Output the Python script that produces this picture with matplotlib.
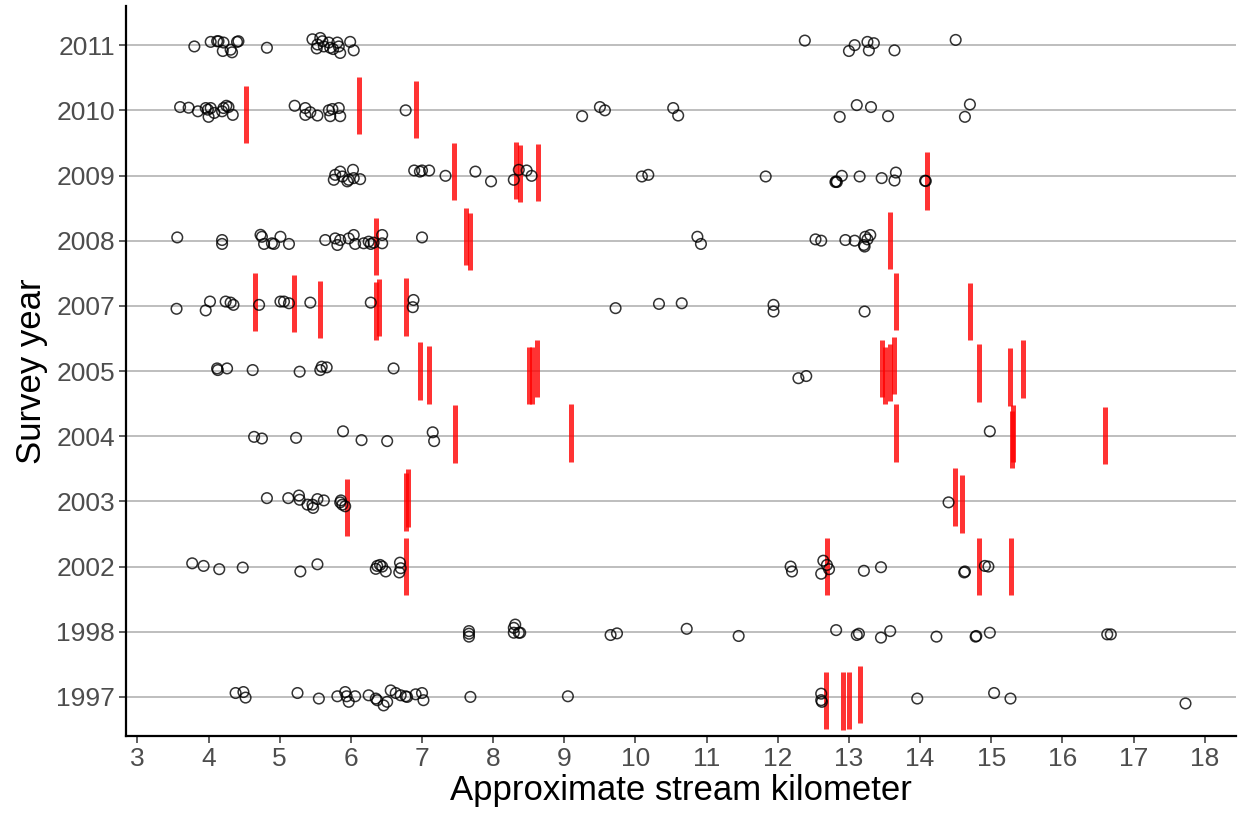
import numpy as np
import matplotlib
matplotlib.use("Agg")
import matplotlib.pyplot as plt

plt.rcParams['font.family'] = ['Liberation Sans', 'DejaVu Sans']

years = ['1997', '1998', '2002', '2003', '2004', '2005', '2007', '2008', '2009', '2010', '2011']

# survey points: (stream km, vertical jitter in row units)
pts_2011 = [(3.80, -0.02), (4.03, 0.05), (4.12, 0.06), (4.14, 0.06), (4.21, 0.04), (4.20, -0.09),
            (4.33, -0.11), (4.31, -0.07), (4.40, 0.05), (4.42, 0.06), (4.82, -0.04), (5.46, 0.09),
            (5.52, -0.05), (5.53, 0.01), (5.57, 0.11), (5.60, 0.06), (5.62, -0.02), (5.69, 0.04),
            (5.71, -0.04), (5.75, -0.06), (5.81, 0.04), (5.83, -0.02), (5.85, -0.12), (5.99, 0.05),
            (6.04, -0.08), (12.38, 0.07), (13.00, -0.09), (13.08, 0.0), (13.26, 0.05), (13.28, -0.08),
            (13.35, 0.03), (13.64, -0.08), (14.50, 0.08)]
pts_2010 = [(3.60, 0.05), (3.72, 0.04), (3.85, -0.015), (3.96, 0.035), (3.99, 0.01), (4.00, -0.10),
            (4.03, 0.035), (4.08, -0.04), (4.19, -0.015), (4.21, 0.035), (4.25, 0.07), (4.28, 0.05),
            (4.34, -0.07), (5.21, 0.07), (5.36, 0.035), (5.36, -0.07), (5.43, -0.03), (5.53, -0.08),
            (5.69, 0.0), (5.71, -0.09), (5.74, 0.02), (5.83, 0.035), (5.85, -0.09), (6.77, 0.0),
            (9.25, -0.09), (9.50, 0.05), (9.57, 0.0), (10.53, 0.035), (10.60, -0.08), (12.87, -0.10),
            (13.11, 0.08), (13.31, 0.05), (13.55, -0.09), (14.70, 0.09), (14.63, -0.10)]
pts_2009 = [(5.76, -0.066), (5.78, 0.01), (5.85, 0.06), (5.88, -0.015), (5.95, -0.09), (5.97, -0.066),
            (6.03, 0.087), (6.04, -0.04), (6.13, -0.056), (6.89, 0.077), (6.97, 0.06), (7.00, 0.077),
            (7.10, 0.077), (7.33, -0.005), (7.75, 0.06), (7.97, -0.09), (8.29, -0.066), (8.36, 0.087),
            (8.47, 0.077), (8.54, -0.005), (10.09, -0.015), (10.18, 0.01), (11.83, -0.015),
            (12.81, -0.10), (12.82, -0.09), (12.83, -0.10), (12.90, -0.005), (13.15, -0.015),
            (13.46, -0.04), (13.66, 0.045), (13.64, -0.077), (14.07, -0.08), (14.08, -0.085)]
pts_2008 = [(3.56, 0.05), (4.19, 0.01), (4.19, -0.05), (4.73, 0.09), (4.75, 0.06), (4.78, -0.05),
            (4.89, -0.04), (4.92, -0.05), (5.01, 0.06), (5.13, -0.05), (5.64, 0.01), (5.78, 0.035),
            (5.81, -0.066), (5.85, 0.01), (5.97, 0.035), (6.04, 0.087), (6.06, -0.05), (6.18, -0.04),
            (6.25, -0.015), (6.28, -0.05), (6.32, -0.03), (6.44, 0.087), (6.44, -0.04), (7.00, 0.05),
            (10.87, 0.06), (10.92, -0.05), (12.53, 0.02), (12.61, 0.0), (12.95, 0.01), (13.08, 0.0),
            (13.21, -0.066), (13.23, 0.06), (13.26, 0.02), (13.30, 0.087), (13.22, -0.09)]
pts_2007 = [(3.55, -0.045), (3.96, -0.07), (4.02, 0.066), (4.24, 0.066), (4.31, 0.05), (4.35, 0.015),
            (4.71, 0.015), (5.01, 0.066), (5.06, 0.066), (5.13, 0.04), (5.43, 0.05), (6.28, 0.05),
            (6.88, 0.09), (6.87, -0.02), (9.72, -0.035), (10.33, 0.03), (10.65, 0.04), (11.94, 0.015),
            (11.94, -0.087), (13.22, -0.087)]
pts_2005 = [(4.12, 0.04), (4.13, 0.015), (4.26, 0.04), (4.62, 0.015), (5.28, -0.01), (5.57, 0.015),
            (5.59, 0.066), (5.66, 0.056), (6.60, 0.04), (12.29, -0.11), (12.40, -0.077)]
pts_2004 = [(4.64, -0.01), (4.75, -0.035), (5.23, -0.025), (5.89, 0.075), (6.15, -0.06), (6.51, -0.075),
            (7.15, 0.06), (7.17, -0.075), (14.98, 0.075)]
pts_2003 = [(4.82, 0.05), (5.12, 0.05), (5.27, 0.09), (5.28, 0.025), (5.39, -0.05), (5.47, -0.10),
            (5.46, -0.05), (5.53, 0.035), (5.62, 0.015), (5.85, -0.015), (5.88, -0.05), (5.92, -0.075),
            (5.86, 0.015), (14.40, -0.015)]
pts_2002 = [(3.77, 0.05), (3.93, 0.01), (4.15, -0.04), (4.48, -0.015), (5.29, -0.075), (5.53, 0.035),
            (6.35, -0.035), (6.37, 0.01), (6.41, 0.025), (6.44, 0.0), (6.49, -0.075), (6.69, 0.06),
            (6.70, -0.025), (6.68, -0.09), (12.18, 0.0), (12.20, -0.075), (12.64, 0.09), (12.61, -0.11),
            (12.69, 0.025), (12.72, -0.04), (13.21, -0.065), (13.45, -0.01), (14.62, -0.09),
            (14.63, -0.075), (14.91, 0.01), (14.96, 0.0)]
pts_1998 = [(7.66, 0.01), (7.66, -0.03), (7.66, -0.075), (8.29, -0.015), (8.31, 0.11), (8.36, -0.015),
            (8.29, 0.06), (8.38, -0.015), (9.65, -0.05), (9.74, -0.025), (10.72, 0.045), (11.45, -0.065),
            (12.82, 0.025), (13.11, -0.05), (13.14, -0.03), (13.45, -0.09), (13.58, 0.01),
            (14.23, -0.075), (14.78, -0.075), (14.79, -0.065), (14.98, -0.015), (16.63, -0.04),
            (16.68, -0.04)]
pts_1997 = [(4.38, 0.06), (4.49, 0.075), (4.52, -0.01), (5.25, 0.06), (5.55, -0.025), (5.81, 0.01),
            (5.92, 0.075), (5.94, 0.01), (5.97, -0.075), (6.06, 0.01), (6.25, 0.025), (6.35, -0.025),
            (6.37, -0.05), (6.46, -0.13), (6.51, -0.075), (6.56, 0.10), (6.63, 0.06), (6.70, 0.025),
            (6.77, 0.01), (6.79, 0.0), (6.91, 0.04), (7.00, 0.06), (7.02, -0.05), (7.68, 0.0),
            (9.05, 0.01), (12.61, 0.05), (12.62, -0.075), (12.61, -0.05), (13.96, -0.025),
            (15.04, 0.06), (15.27, -0.025), (17.73, -0.10)]

# red markers: (stream km, vertical offset of segment centre)
seg_2010 = [(4.53, -0.06), (6.12, 0.075), (6.92, 0.015)]
seg_2009 = [(7.45, 0.06), (8.32, 0.08), (8.37, 0.03), (8.63, 0.05), (14.09, -0.085)]
seg_2008 = [(6.36, -0.09), (7.62, 0.06), (7.67, -0.015), (13.58, 0.0)]
seg_2007 = [(4.65, 0.06), (5.20, 0.035), (5.56, -0.06), (6.35, -0.08), (6.40, -0.03), (6.78, -0.015),
            (13.66, 0.07), (14.70, -0.09)]
seg_2005 = [(6.97, 0.0), (7.10, -0.06), (8.50, -0.07), (8.55, -0.07), (8.61, 0.035), (13.46, 0.04),
            (13.50, -0.07), (13.58, -0.02), (13.63, 0.08), (14.83, -0.03), (15.26, -0.09), (15.45, 0.03)]
seg_2004 = [(7.47, 0.035), (9.10, 0.05), (13.66, 0.05), (15.29, -0.05), (15.30, 0.04), (16.60, 0.01)]
seg_2003 = [(5.94, -0.09), (6.77, -0.01), (6.80, 0.05), (14.49, 0.065), (14.59, -0.04)]
seg_2002 = [(6.78, 0.0), (12.69, 0.0), (14.83, 0.0), (15.28, 0.0)]
seg_1997 = [(12.68, -0.05), (12.92, -0.06), (13.00, -0.05), (13.15, 0.04)]

points = {'1997': pts_1997, '1998': pts_1998, '2002': pts_2002, '2003': pts_2003, '2004': pts_2004,
          '2005': pts_2005, '2007': pts_2007, '2008': pts_2008, '2009': pts_2009, '2010': pts_2010,
          '2011': pts_2011}
segments = {'1997': seg_1997, '2002': seg_2002, '2003': seg_2003, '2004': seg_2004, '2005': seg_2005,
            '2007': seg_2007, '2008': seg_2008, '2009': seg_2009, '2010': seg_2010}

fig = plt.figure(figsize=(12.38, 8.16), dpi=100)
ax = fig.add_axes([0.1018, 0.098, 0.8966, 0.8946])

for i, yr in enumerate(years):
    ax.axhline(i + 1, color='#BEBEBE', lw=1.4, zorder=1)

for i, yr in enumerate(years):
    for km, off in segments.get(yr, []):
        yc = i + 1 + off
        ax.plot([km, km], [yc - 0.44, yc + 0.44], color='red', alpha=0.8, lw=3.6,
                solid_capstyle='butt', zorder=2)

for i, yr in enumerate(years):
    p = np.array(points[yr])
    ax.scatter(p[:, 0], i + 1 + p[:, 1], s=58, facecolors='none', edgecolors='black',
               linewidths=1.1, alpha=0.8, zorder=3)

ax.set_xlim(2.84, 18.44)
ax.set_ylim(0.4, 11.6)
ax.set_xticks(range(3, 19))
ax.set_yticks(range(1, len(years) + 1))
ax.set_yticklabels(years)
ax.tick_params(axis='both', labelsize=19, colors='#333333', labelcolor='#4D4D4D',
               length=5, width=1.1, direction='out', pad=3)
for s in ['top', 'right']:
    ax.spines[s].set_visible(False)
for s in ['left', 'bottom']:
    ax.spines[s].set_linewidth(1.6)
    ax.spines[s].set_color('black')

ax.set_xlabel('Approximate stream kilometer', fontsize=25, labelpad=2)
ax.set_ylabel('Survey year', fontsize=25, labelpad=6)

fig.savefig('out.png', dpi=100)
